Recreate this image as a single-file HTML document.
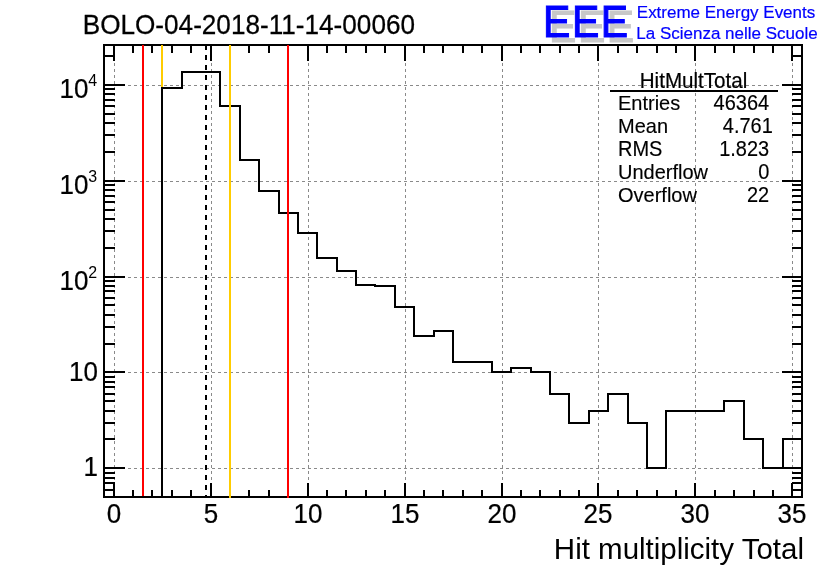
<!DOCTYPE html><html><head><meta charset="utf-8"><title>BOLO-04-2018-11-14-00060</title>
<style>html,body{margin:0;padding:0;background:#fff;}body{width:836px;height:572px;overflow:hidden;}svg{display:block;will-change:transform;}text{font-family:"Liberation Sans",Arial,Helvetica,sans-serif;}</style></head><body>
<svg width="836" height="572" viewBox="0 0 836 572">
<rect x="0" y="0" width="836" height="572" fill="#ffffff"/>
<g stroke="#8a8a8a" stroke-width="1" stroke-dasharray="3 3" shape-rendering="crispEdges" fill="none">
<line x1="114.5" y1="45" x2="114.5" y2="497"/>
<line x1="211.5" y1="45" x2="211.5" y2="497"/>
<line x1="308.5" y1="45" x2="308.5" y2="497"/>
<line x1="405.5" y1="45" x2="405.5" y2="497"/>
<line x1="502.5" y1="45" x2="502.5" y2="497"/>
<line x1="598.5" y1="45" x2="598.5" y2="497"/>
<line x1="695.5" y1="45" x2="695.5" y2="497"/>
<line x1="792.5" y1="45" x2="792.5" y2="497"/>
<line x1="104" y1="468.5" x2="802" y2="468.5"/>
<line x1="104" y1="372.5" x2="802" y2="372.5"/>
<line x1="104" y1="277.5" x2="802" y2="277.5"/>
<line x1="104" y1="181.5" x2="802" y2="181.5"/>
<line x1="104" y1="85.5" x2="802" y2="85.5"/>
</g>
<g stroke="#000" stroke-width="2" fill="none" shape-rendering="crispEdges">
<line x1="114" y1="497" x2="114" y2="483"/><line x1="114" y1="45" x2="114" y2="61"/>
<line x1="133" y1="497" x2="133" y2="490"/><line x1="133" y1="45" x2="133" y2="53"/>
<line x1="152" y1="497" x2="152" y2="490"/><line x1="152" y1="45" x2="152" y2="53"/>
<line x1="172" y1="497" x2="172" y2="490"/><line x1="172" y1="45" x2="172" y2="53"/>
<line x1="191" y1="497" x2="191" y2="490"/><line x1="191" y1="45" x2="191" y2="53"/>
<line x1="211" y1="497" x2="211" y2="483"/><line x1="211" y1="45" x2="211" y2="61"/>
<line x1="230" y1="497" x2="230" y2="490"/><line x1="230" y1="45" x2="230" y2="53"/>
<line x1="249" y1="497" x2="249" y2="490"/><line x1="249" y1="45" x2="249" y2="53"/>
<line x1="269" y1="497" x2="269" y2="490"/><line x1="269" y1="45" x2="269" y2="53"/>
<line x1="288" y1="497" x2="288" y2="490"/><line x1="288" y1="45" x2="288" y2="53"/>
<line x1="308" y1="497" x2="308" y2="483"/><line x1="308" y1="45" x2="308" y2="61"/>
<line x1="327" y1="497" x2="327" y2="490"/><line x1="327" y1="45" x2="327" y2="53"/>
<line x1="346" y1="497" x2="346" y2="490"/><line x1="346" y1="45" x2="346" y2="53"/>
<line x1="366" y1="497" x2="366" y2="490"/><line x1="366" y1="45" x2="366" y2="53"/>
<line x1="385" y1="497" x2="385" y2="490"/><line x1="385" y1="45" x2="385" y2="53"/>
<line x1="405" y1="497" x2="405" y2="483"/><line x1="405" y1="45" x2="405" y2="61"/>
<line x1="424" y1="497" x2="424" y2="490"/><line x1="424" y1="45" x2="424" y2="53"/>
<line x1="443" y1="497" x2="443" y2="490"/><line x1="443" y1="45" x2="443" y2="53"/>
<line x1="463" y1="497" x2="463" y2="490"/><line x1="463" y1="45" x2="463" y2="53"/>
<line x1="482" y1="497" x2="482" y2="490"/><line x1="482" y1="45" x2="482" y2="53"/>
<line x1="502" y1="497" x2="502" y2="483"/><line x1="502" y1="45" x2="502" y2="61"/>
<line x1="521" y1="497" x2="521" y2="490"/><line x1="521" y1="45" x2="521" y2="53"/>
<line x1="540" y1="497" x2="540" y2="490"/><line x1="540" y1="45" x2="540" y2="53"/>
<line x1="560" y1="497" x2="560" y2="490"/><line x1="560" y1="45" x2="560" y2="53"/>
<line x1="579" y1="497" x2="579" y2="490"/><line x1="579" y1="45" x2="579" y2="53"/>
<line x1="598" y1="497" x2="598" y2="483"/><line x1="598" y1="45" x2="598" y2="61"/>
<line x1="618" y1="497" x2="618" y2="490"/><line x1="618" y1="45" x2="618" y2="53"/>
<line x1="637" y1="497" x2="637" y2="490"/><line x1="637" y1="45" x2="637" y2="53"/>
<line x1="657" y1="497" x2="657" y2="490"/><line x1="657" y1="45" x2="657" y2="53"/>
<line x1="676" y1="497" x2="676" y2="490"/><line x1="676" y1="45" x2="676" y2="53"/>
<line x1="695" y1="497" x2="695" y2="483"/><line x1="695" y1="45" x2="695" y2="61"/>
<line x1="715" y1="497" x2="715" y2="490"/><line x1="715" y1="45" x2="715" y2="53"/>
<line x1="734" y1="497" x2="734" y2="490"/><line x1="734" y1="45" x2="734" y2="53"/>
<line x1="754" y1="497" x2="754" y2="490"/><line x1="754" y1="45" x2="754" y2="53"/>
<line x1="773" y1="497" x2="773" y2="490"/><line x1="773" y1="45" x2="773" y2="53"/>
<line x1="792" y1="497" x2="792" y2="483"/><line x1="792" y1="45" x2="792" y2="61"/>
<line x1="103" y1="490" x2="115" y2="490"/><line x1="803" y1="490" x2="792" y2="490"/>
<line x1="103" y1="483" x2="115" y2="483"/><line x1="803" y1="483" x2="792" y2="483"/>
<line x1="103" y1="478" x2="115" y2="478"/><line x1="803" y1="478" x2="792" y2="478"/>
<line x1="103" y1="473" x2="115" y2="473"/><line x1="803" y1="473" x2="792" y2="473"/>
<line x1="103" y1="468" x2="125" y2="468"/><line x1="803" y1="468" x2="782" y2="468"/>
<line x1="103" y1="439" x2="115" y2="439"/><line x1="803" y1="439" x2="792" y2="439"/>
<line x1="103" y1="423" x2="115" y2="423"/><line x1="803" y1="423" x2="792" y2="423"/>
<line x1="103" y1="411" x2="115" y2="411"/><line x1="803" y1="411" x2="792" y2="411"/>
<line x1="103" y1="401" x2="115" y2="401"/><line x1="803" y1="401" x2="792" y2="401"/>
<line x1="103" y1="394" x2="115" y2="394"/><line x1="803" y1="394" x2="792" y2="394"/>
<line x1="103" y1="387" x2="115" y2="387"/><line x1="803" y1="387" x2="792" y2="387"/>
<line x1="103" y1="382" x2="115" y2="382"/><line x1="803" y1="382" x2="792" y2="382"/>
<line x1="103" y1="377" x2="115" y2="377"/><line x1="803" y1="377" x2="792" y2="377"/>
<line x1="103" y1="372" x2="125" y2="372"/><line x1="803" y1="372" x2="782" y2="372"/>
<line x1="103" y1="344" x2="115" y2="344"/><line x1="803" y1="344" x2="792" y2="344"/>
<line x1="103" y1="327" x2="115" y2="327"/><line x1="803" y1="327" x2="792" y2="327"/>
<line x1="103" y1="315" x2="115" y2="315"/><line x1="803" y1="315" x2="792" y2="315"/>
<line x1="103" y1="305" x2="115" y2="305"/><line x1="803" y1="305" x2="792" y2="305"/>
<line x1="103" y1="298" x2="115" y2="298"/><line x1="803" y1="298" x2="792" y2="298"/>
<line x1="103" y1="291" x2="115" y2="291"/><line x1="803" y1="291" x2="792" y2="291"/>
<line x1="103" y1="286" x2="115" y2="286"/><line x1="803" y1="286" x2="792" y2="286"/>
<line x1="103" y1="281" x2="115" y2="281"/><line x1="803" y1="281" x2="792" y2="281"/>
<line x1="103" y1="277" x2="125" y2="277"/><line x1="803" y1="277" x2="782" y2="277"/>
<line x1="103" y1="248" x2="115" y2="248"/><line x1="803" y1="248" x2="792" y2="248"/>
<line x1="103" y1="231" x2="115" y2="231"/><line x1="803" y1="231" x2="792" y2="231"/>
<line x1="103" y1="219" x2="115" y2="219"/><line x1="803" y1="219" x2="792" y2="219"/>
<line x1="103" y1="210" x2="115" y2="210"/><line x1="803" y1="210" x2="792" y2="210"/>
<line x1="103" y1="202" x2="115" y2="202"/><line x1="803" y1="202" x2="792" y2="202"/>
<line x1="103" y1="196" x2="115" y2="196"/><line x1="803" y1="196" x2="792" y2="196"/>
<line x1="103" y1="190" x2="115" y2="190"/><line x1="803" y1="190" x2="792" y2="190"/>
<line x1="103" y1="185" x2="115" y2="185"/><line x1="803" y1="185" x2="792" y2="185"/>
<line x1="103" y1="181" x2="125" y2="181"/><line x1="803" y1="181" x2="782" y2="181"/>
<line x1="103" y1="152" x2="115" y2="152"/><line x1="803" y1="152" x2="792" y2="152"/>
<line x1="103" y1="135" x2="115" y2="135"/><line x1="803" y1="135" x2="792" y2="135"/>
<line x1="103" y1="123" x2="115" y2="123"/><line x1="803" y1="123" x2="792" y2="123"/>
<line x1="103" y1="114" x2="115" y2="114"/><line x1="803" y1="114" x2="792" y2="114"/>
<line x1="103" y1="106" x2="115" y2="106"/><line x1="803" y1="106" x2="792" y2="106"/>
<line x1="103" y1="100" x2="115" y2="100"/><line x1="803" y1="100" x2="792" y2="100"/>
<line x1="103" y1="94" x2="115" y2="94"/><line x1="803" y1="94" x2="792" y2="94"/>
<line x1="103" y1="89" x2="115" y2="89"/><line x1="803" y1="89" x2="792" y2="89"/>
<line x1="103" y1="85" x2="125" y2="85"/><line x1="803" y1="85" x2="782" y2="85"/>
<line x1="103" y1="56" x2="115" y2="56"/><line x1="803" y1="56" x2="792" y2="56"/>
<rect x="104" y="45" width="698" height="452"/>
</g>
<g shape-rendering="crispEdges" fill="none" stroke-width="2">
<line x1="162" y1="45" x2="162" y2="497" stroke="#ffcc00"/>
</g>
<path d="M162 497 L162 88 L182 88 L182 72 L201 72 L201 72 L220 72 L220 106 L240 106 L240 160 L259 160 L259 191 L279 191 L279 213 L298 213 L298 233 L317 233 L317 258 L337 258 L337 271 L356 271 L356 285 L375 285 L375 286 L395 286 L395 307 L414 307 L414 336 L434 336 L434 331 L453 331 L453 362 L472 362 L472 362 L492 362 L492 372 L511 372 L511 368 L531 368 L531 372 L550 372 L550 394 L569 394 L569 423 L589 423 L589 411 L608 411 L608 394 L628 394 L628 423 L647 423 L647 468 L666 468 L666 411 L686 411 L686 411 L705 411 L705 411 L724 411 L724 401 L744 401 L744 439 L763 439 L763 468 L783 468 L783 439 L802 439" fill="none" stroke="#000" stroke-width="2" stroke-linejoin="miter" stroke-linecap="square" shape-rendering="crispEdges"/>
<g shape-rendering="crispEdges" fill="none" stroke-width="2">
<line x1="143" y1="45" x2="143" y2="496" stroke="#ff0000"/>
<line x1="288" y1="45" x2="288" y2="498" stroke="#ff0000"/>
<line x1="230" y1="45" x2="230" y2="498" stroke="#ffcc00"/>
<line x1="206" y1="45" x2="206" y2="498" stroke="#000" stroke-dasharray="5 5"/>
</g>
<text transform="translate(82.7 34) scale(1 1.06)" font-size="26.15" text-anchor="start" fill="#000" stroke="#000" stroke-width="0.25">BOLO-04-2018-11-14-00060</text>
<text transform="translate(549.0 41.6) scale(0.912 1)" x="0" y="0" font-size="44.95" letter-spacing="1.71" fill="#c8c8c8" stroke="#c8c8c8" stroke-width="1.07" stroke-linejoin="miter">EEE</text>
<text transform="translate(543.0 36.97) scale(0.912 1)" x="0" y="0" font-size="44.95" letter-spacing="1.71" fill="#0000ff" stroke="#0000ff" stroke-width="1.07" stroke-linejoin="miter">EEE</text>
<text transform="translate(636.8 18) scale(1 1.02)" font-size="17" text-anchor="start" fill="#0000ff" stroke="#0000ff" stroke-width="0.2">Extreme Energy Events</text>
<text transform="translate(636.3 39) scale(1 1.02)" font-size="17" text-anchor="start" fill="#0000ff" stroke="#0000ff" stroke-width="0.2">La Scienza nelle Scuole</text>
<text transform="translate(98 476.2) scale(1 1.085)" font-size="26" text-anchor="end" fill="#000" stroke="#000" stroke-width="0.22">1</text>
<text transform="translate(98 380.9) scale(1 1.085)" font-size="26" text-anchor="end" fill="#000" stroke="#000" stroke-width="0.22">10</text>
<text transform="translate(88.4 289.6) scale(1 1.085)" font-size="26" text-anchor="end" fill="#000" stroke="#000" stroke-width="0.22">10</text>
<text transform="translate(88.3 278.1) scale(1 1.085)" font-size="16" text-anchor="start" fill="#000">2</text>
<text transform="translate(88.4 193.6) scale(1 1.085)" font-size="26" text-anchor="end" fill="#000" stroke="#000" stroke-width="0.22">10</text>
<text transform="translate(88.3 182.1) scale(1 1.085)" font-size="16" text-anchor="start" fill="#000">3</text>
<text transform="translate(88.4 97.6) scale(1 1.085)" font-size="26" text-anchor="end" fill="#000" stroke="#000" stroke-width="0.22">10</text>
<text transform="translate(88.3 86.1) scale(1 1.085)" font-size="16" text-anchor="start" fill="#000">4</text>
<text transform="translate(114 522.7) scale(1 1.085)" font-size="26" text-anchor="middle" fill="#000" stroke="#000" stroke-width="0.22">0</text>
<text transform="translate(211 522.7) scale(1 1.085)" font-size="26" text-anchor="middle" fill="#000" stroke="#000" stroke-width="0.22">5</text>
<text transform="translate(308 522.7) scale(1 1.085)" font-size="26" text-anchor="middle" fill="#000" stroke="#000" stroke-width="0.22">10</text>
<text transform="translate(405 522.7) scale(1 1.085)" font-size="26" text-anchor="middle" fill="#000" stroke="#000" stroke-width="0.22">15</text>
<text transform="translate(502 522.7) scale(1 1.085)" font-size="26" text-anchor="middle" fill="#000" stroke="#000" stroke-width="0.22">20</text>
<text transform="translate(598 522.7) scale(1 1.085)" font-size="26" text-anchor="middle" fill="#000" stroke="#000" stroke-width="0.22">25</text>
<text transform="translate(695 522.7) scale(1 1.085)" font-size="26" text-anchor="middle" fill="#000" stroke="#000" stroke-width="0.22">30</text>
<text transform="translate(792 522.7) scale(1 1.085)" font-size="26" text-anchor="middle" fill="#000" stroke="#000" stroke-width="0.22">35</text>
<text transform="translate(804 558.7) scale(1 1.02)" font-size="29.5" text-anchor="end" fill="#000">Hit multiplicity Total</text>
<text transform="translate(693.5 88.3) scale(1 1.04)" font-size="20.6" text-anchor="middle" fill="#000" stroke="#000" stroke-width="0.2">HitMultTotal</text>
<line x1="610" y1="91" x2="778" y2="91" stroke="#000" stroke-width="2" shape-rendering="crispEdges"/>
<text transform="translate(618 110) scale(1 1.03)" font-size="20" text-anchor="start" fill="#000" stroke="#000" stroke-width="0.15">Entries</text>
<text transform="translate(769.2 110.4) scale(1 1.085)" font-size="20" text-anchor="end" fill="#000" stroke="#000" stroke-width="0.15">46364</text>
<text transform="translate(618 133) scale(1 1.03)" font-size="20" text-anchor="start" fill="#000" stroke="#000" stroke-width="0.15">Mean</text>
<text transform="translate(772.8 133.4) scale(1 1.085)" font-size="20" text-anchor="end" fill="#000" stroke="#000" stroke-width="0.15">4.761</text>
<text transform="translate(618 156) scale(1 1.06)" font-size="20" text-anchor="start" fill="#000" stroke="#000" stroke-width="0.15">RMS</text>
<text transform="translate(769.2 156.4) scale(1 1.085)" font-size="20" text-anchor="end" fill="#000" stroke="#000" stroke-width="0.15">1.823</text>
<text transform="translate(618 179) scale(1 1.03)" font-size="20" text-anchor="start" fill="#000" stroke="#000" stroke-width="0.15">Underflow</text>
<text transform="translate(769.4 179.4) scale(1 1.085)" font-size="20" text-anchor="end" fill="#000" stroke="#000" stroke-width="0.15">0</text>
<text transform="translate(618 202) scale(1 1.03)" font-size="20" text-anchor="start" fill="#000" stroke="#000" stroke-width="0.15">Overflow</text>
<text transform="translate(769.2 202.4) scale(1 1.085)" font-size="20" text-anchor="end" fill="#000" stroke="#000" stroke-width="0.15">22</text>
</svg></body></html>
